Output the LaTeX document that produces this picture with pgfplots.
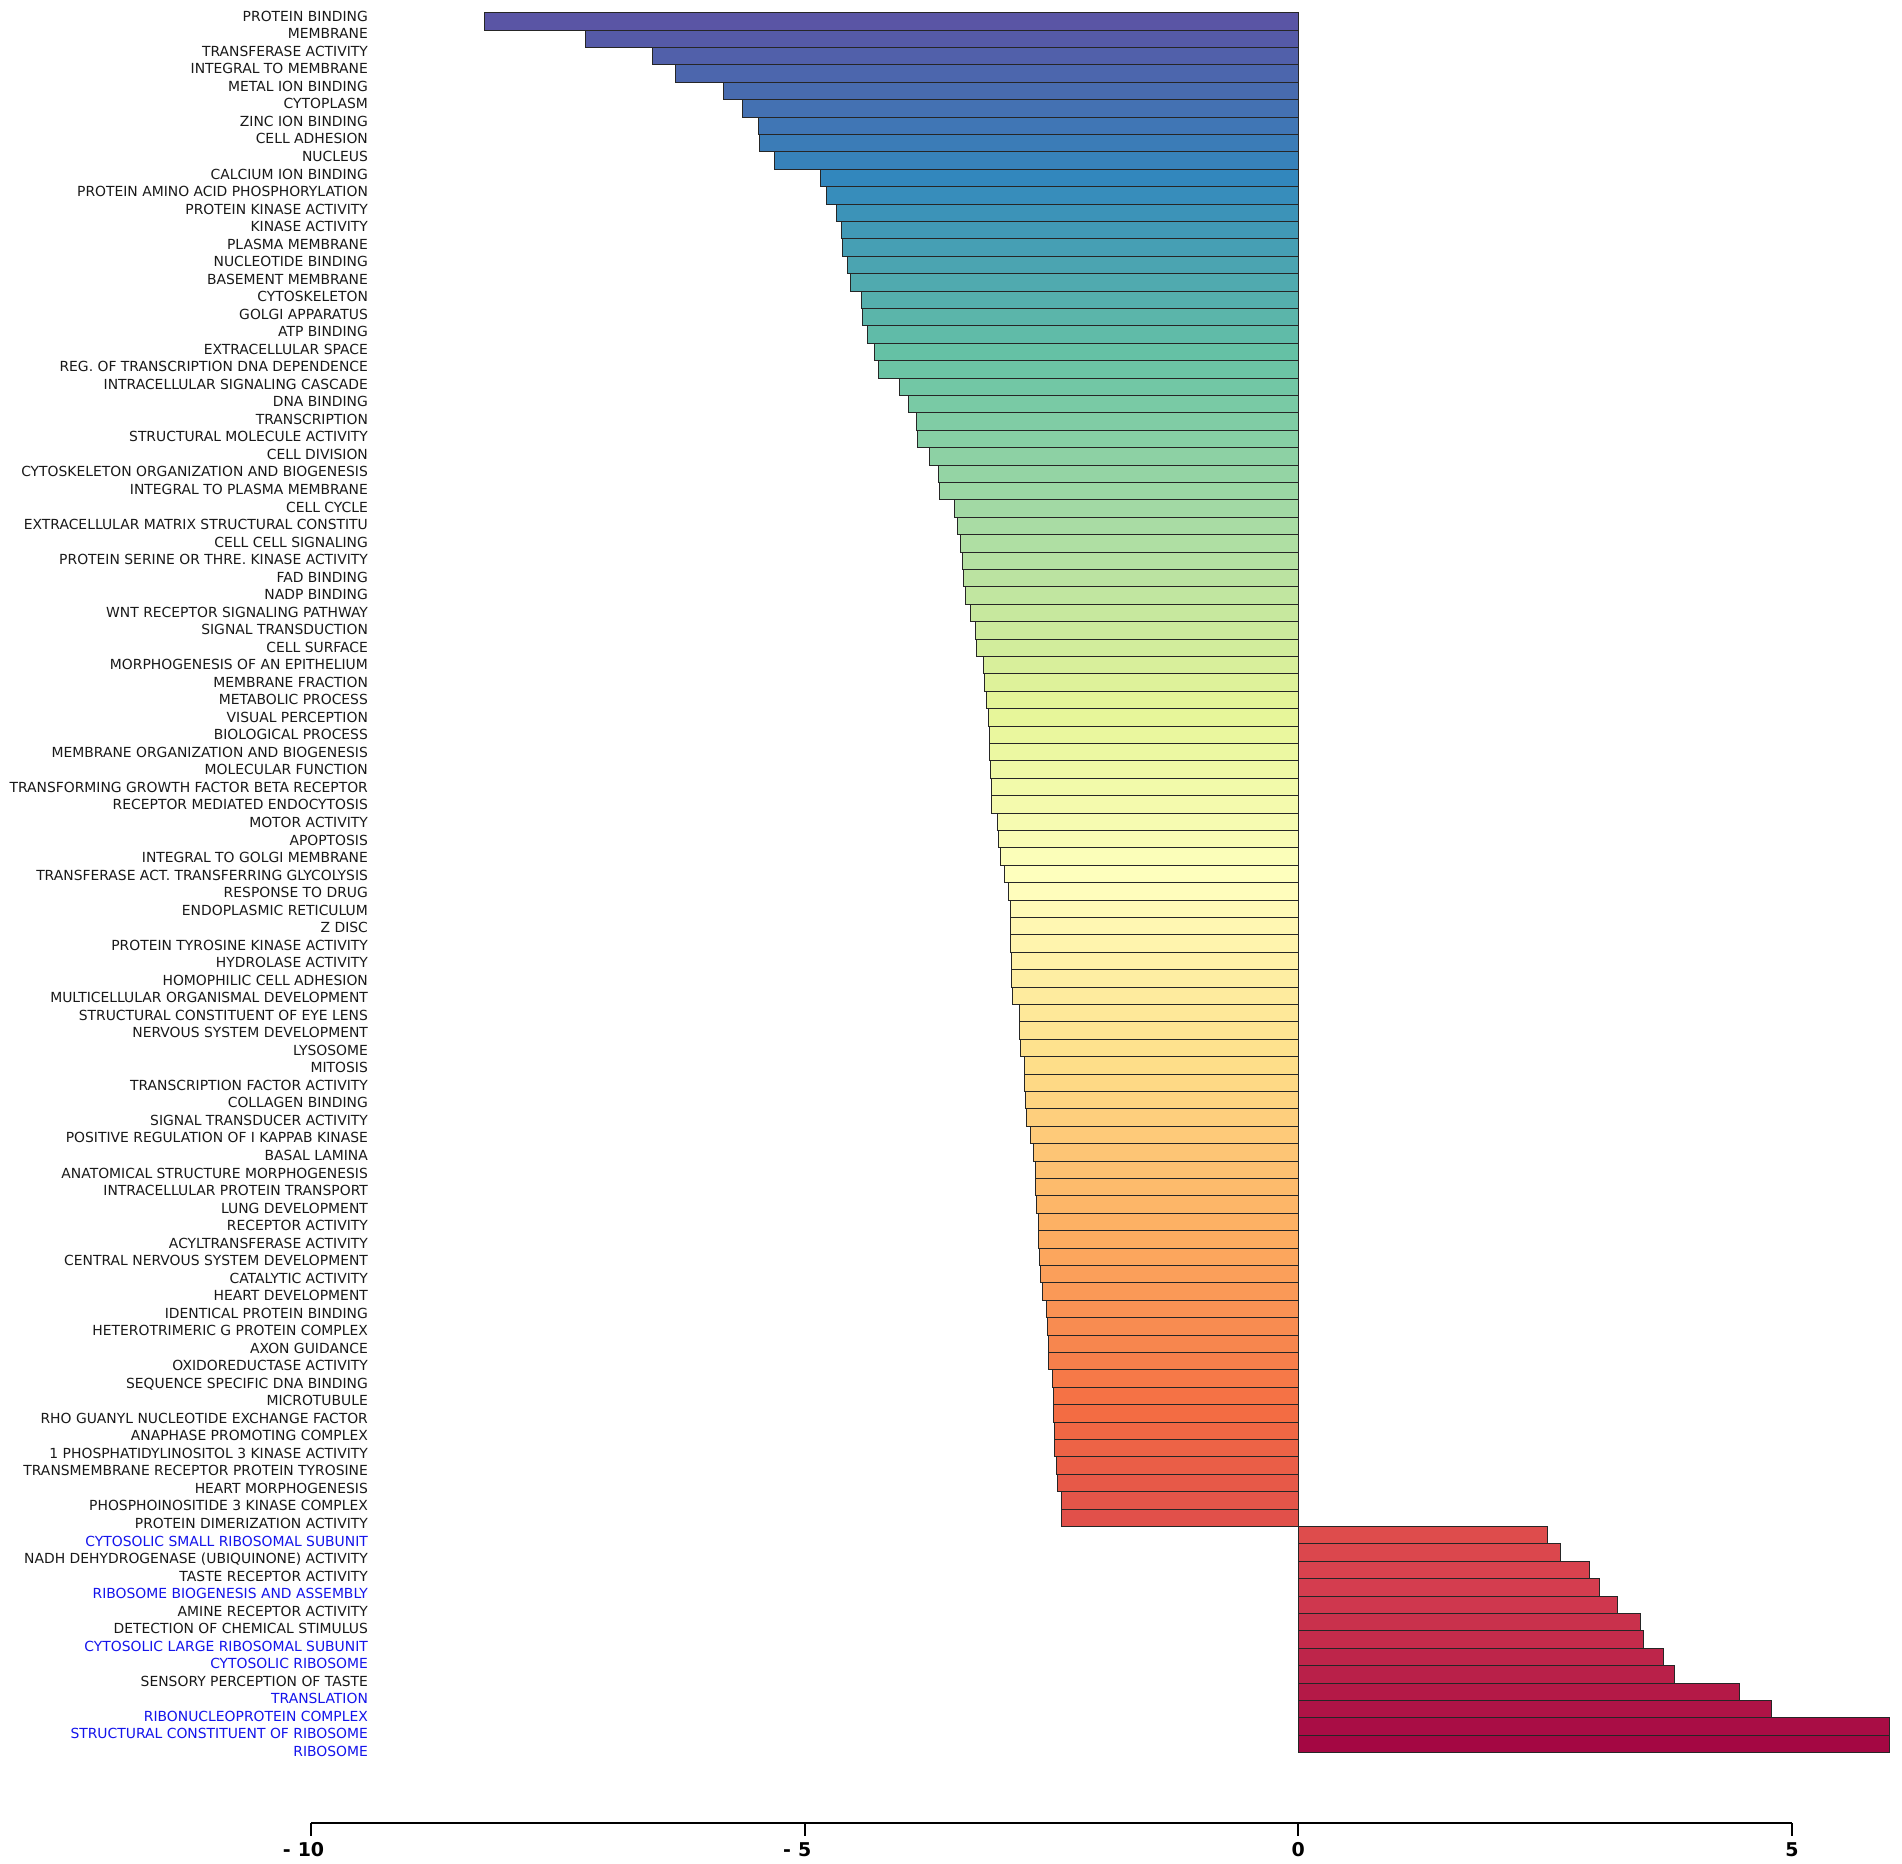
\documentclass[border=0pt]{standalone}
\usepackage{pgfplots}
\pgfplotsset{compat=1.18}
\usepackage{fontspec}
\setmainfont{DejaVu Sans}

% Spectral_r anchors
\definecolor{s0}{HTML}{5E4FA2}
\definecolor{s1}{HTML}{3288BD}
\definecolor{s2}{HTML}{66C2A5}
\definecolor{s3}{HTML}{ABDDA4}
\definecolor{s4}{HTML}{E6F598}
\definecolor{s5}{HTML}{FFFFBF}
\definecolor{s6}{HTML}{FEE08B}
\definecolor{s7}{HTML}{FDAE61}
\definecolor{s8}{HTML}{F46D43}
\definecolor{s9}{HTML}{D53E4F}
\definecolor{s10}{HTML}{9E0142}
\definecolor{lblue}{RGB}{20,20,235}

% one bar: value, row, fill
\newcommand{\hb}[3]{\addplot[xbar, bar width=1, bar shift=0pt, fill=#3, draw=black!85, line width=0.5pt] coordinates {(#1,#2)};}

\begin{document}
\begin{tikzpicture}[x=1pt,y=1pt]
\useasboundingbox (0,0) rectangle (951,932);

\begin{axis}[
    at={(0,0)}, anchor=south west,
    width=951pt, height=932pt, scale only axis,
    xmin=-13.15, xmax=6.115,
    ymin=-0.23, ymax=106.9,
    y dir=reverse,
    hide axis, clip=false
]
\hb{-8.24}{1}{s0!90!s1}
\hb{-7.22}{2}{s0!80!s1}
\hb{-6.54}{3}{s0!70!s1}
\hb{-6.31}{4}{s0!60!s1}
\hb{-5.82}{5}{s0!50!s1}
\hb{-5.63}{6}{s0!41!s1}
\hb{-5.47}{7}{s0!31!s1}
\hb{-5.46}{8}{s0!21!s1}
\hb{-5.31}{9}{s0!11!s1}
\hb{-4.84}{10}{s0!1!s1}
\hb{-4.78}{11}{s1!91!s2}
\hb{-4.68}{12}{s1!81!s2}
\hb{-4.63}{13}{s1!71!s2}
\hb{-4.62}{14}{s1!61!s2}
\hb{-4.57}{15}{s1!51!s2}
\hb{-4.54}{16}{s1!42!s2}
\hb{-4.42}{17}{s1!32!s2}
\hb{-4.41}{18}{s1!22!s2}
\hb{-4.36}{19}{s1!12!s2}
\hb{-4.29}{20}{s1!2!s2}
\hb{-4.25}{21}{s2!92!s3}
\hb{-4.04}{22}{s2!82!s3}
\hb{-3.95}{23}{s2!72!s3}
\hb{-3.87}{24}{s2!62!s3}
\hb{-3.86}{25}{s2!52!s3}
\hb{-3.74}{26}{s2!43!s3}
\hb{-3.64}{27}{s2!33!s3}
\hb{-3.63}{28}{s2!23!s3}
\hb{-3.48}{29}{s2!13!s3}
\hb{-3.45}{30}{s2!3!s3}
\hb{-3.42}{31}{s3!93!s4}
\hb{-3.40}{32}{s3!83!s4}
\hb{-3.39}{33}{s3!73!s4}
\hb{-3.37}{34}{s3!63!s4}
\hb{-3.32}{35}{s3!53!s4}
\hb{-3.27}{36}{s3!44!s4}
\hb{-3.26}{37}{s3!34!s4}
\hb{-3.19}{38}{s3!24!s4}
\hb{-3.18}{39}{s3!14!s4}
\hb{-3.16}{40}{s3!4!s4}
\hb{-3.14}{41}{s4!94!s5}
\hb{-3.13}{42}{s4!84!s5}
\hb{-3.13}{43}{s4!74!s5}
\hb{-3.12}{44}{s4!64!s5}
\hb{-3.11}{45}{s4!54!s5}
\hb{-3.11}{46}{s4!45!s5}
\hb{-3.05}{47}{s4!35!s5}
\hb{-3.04}{48}{s4!25!s5}
\hb{-3.02}{49}{s4!15!s5}
\hb{-2.98}{50}{s4!5!s5}
\hb{-2.94}{51}{s5!95!s6}
\hb{-2.92}{52}{s5!85!s6}
\hb{-2.91}{53}{s5!75!s6}
\hb{-2.91}{54}{s5!65!s6}
\hb{-2.90}{55}{s5!55!s6}
\hb{-2.90}{56}{s5!46!s6}
\hb{-2.89}{57}{s5!36!s6}
\hb{-2.82}{58}{s5!26!s6}
\hb{-2.82}{59}{s5!16!s6}
\hb{-2.81}{60}{s5!6!s6}
\hb{-2.77}{61}{s6!96!s7}
\hb{-2.77}{62}{s6!86!s7}
\hb{-2.76}{63}{s6!76!s7}
\hb{-2.75}{64}{s6!66!s7}
\hb{-2.71}{65}{s6!56!s7}
\hb{-2.68}{66}{s6!47!s7}
\hb{-2.66}{67}{s6!37!s7}
\hb{-2.66}{68}{s6!27!s7}
\hb{-2.65}{69}{s6!17!s7}
\hb{-2.63}{70}{s6!7!s7}
\hb{-2.63}{71}{s7!97!s8}
\hb{-2.62}{72}{s7!87!s8}
\hb{-2.61}{73}{s7!77!s8}
\hb{-2.59}{74}{s7!67!s8}
\hb{-2.55}{75}{s7!57!s8}
\hb{-2.54}{76}{s7!48!s8}
\hb{-2.53}{77}{s7!38!s8}
\hb{-2.53}{78}{s7!28!s8}
\hb{-2.49}{79}{s7!18!s8}
\hb{-2.48}{80}{s7!8!s8}
\hb{-2.48}{81}{s8!98!s9}
\hb{-2.47}{82}{s8!88!s9}
\hb{-2.47}{83}{s8!78!s9}
\hb{-2.45}{84}{s8!68!s9}
\hb{-2.44}{85}{s8!58!s9}
\hb{-2.40}{86}{s8!49!s9}
\hb{-2.40}{87}{s8!39!s9}
\hb{2.52}{88}{s8!29!s9}
\hb{2.66}{89}{s8!19!s9}
\hb{2.95}{90}{s8!9!s9}
\hb{3.05}{91}{s9!99!s10}
\hb{3.23}{92}{s9!89!s10}
\hb{3.47}{93}{s9!79!s10}
\hb{3.50}{94}{s9!69!s10}
\hb{3.70}{95}{s9!59!s10}
\hb{3.81}{96}{s9!50!s10}
\hb{4.47}{97}{s9!40!s10}
\hb{4.79}{98}{s9!30!s10}
\hb{5.99}{99}{s9!20!s10}
\hb{5.99}{100}{s9!10!s10}

% trimmed bottom spine with ticks
\draw[line width=1pt] (axis cs:-10,104.54) -- (axis cs:5,104.54);
\pgfplotsinvokeforeach{-10,-5,0,5}{
  \draw[line width=1pt] (axis cs:#1,104.54) -- ++(0pt,-6.5pt);
}
\node[anchor=north, inner sep=0pt, font=\bfseries\fontsize{9.5}{10}\selectfont] at (axis cs:-10,105.63) {\llap{-\hspace{3.5pt}}10};
\node[anchor=north, inner sep=0pt, font=\bfseries\fontsize{9.5}{10}\selectfont] at (axis cs:-5,105.63) {\llap{-\hspace{3.5pt}}5};
\node[anchor=north, inner sep=0pt, font=\bfseries\fontsize{9.5}{10}\selectfont] at (axis cs:0,105.63) {0};
\node[anchor=north, inner sep=0pt, font=\bfseries\fontsize{9.5}{10}\selectfont] at (axis cs:5,105.63) {5};
\end{axis}

% category labels
\begin{axis}[
    at={(184.15pt,0)}, anchor=south west,
    width=50pt, height=932pt, scale only axis,
    xmin=0, xmax=1,
    ymin=0.201, ymax=106.56,
    y dir=reverse,
    axis line style={draw=none},
    xtick=\empty,
    major tick length=0pt, tick style={draw=none},
    ytick={1,...,100},
    yticklabel style={anchor=east, inner sep=0pt, text height=0.73em, text depth=0pt, font=\fontsize{6.95}{8}\selectfont, text=black!90},
    yticklabels={
PROTEIN BINDING,
MEMBRANE,
TRANSFERASE ACTIVITY,
INTEGRAL TO MEMBRANE,
METAL ION BINDING,
CYTOPLASM,
ZINC ION BINDING,
CELL ADHESION,
NUCLEUS,
CALCIUM ION BINDING,
PROTEIN AMINO ACID PHOSPHORYLATION,
PROTEIN KINASE ACTIVITY,
KINASE ACTIVITY,
PLASMA MEMBRANE,
NUCLEOTIDE BINDING,
BASEMENT MEMBRANE,
CYTOSKELETON,
GOLGI APPARATUS,
ATP BINDING,
EXTRACELLULAR SPACE,
REG. OF TRANSCRIPTION DNA DEPENDENCE,
INTRACELLULAR SIGNALING CASCADE,
DNA BINDING,
TRANSCRIPTION,
STRUCTURAL MOLECULE ACTIVITY,
CELL DIVISION,
CYTOSKELETON ORGANIZATION AND BIOGENESIS,
INTEGRAL TO PLASMA MEMBRANE,
CELL CYCLE,
EXTRACELLULAR MATRIX STRUCTURAL CONSTITU,
CELL CELL SIGNALING,
PROTEIN SERINE OR THRE. KINASE ACTIVITY,
FAD BINDING,
NADP BINDING,
WNT RECEPTOR SIGNALING PATHWAY,
SIGNAL TRANSDUCTION,
CELL SURFACE,
MORPHOGENESIS OF AN EPITHELIUM,
MEMBRANE FRACTION,
METABOLIC PROCESS,
VISUAL PERCEPTION,
BIOLOGICAL PROCESS,
MEMBRANE ORGANIZATION AND BIOGENESIS,
MOLECULAR FUNCTION,
TRANSFORMING GROWTH FACTOR BETA RECEPTOR,
RECEPTOR MEDIATED ENDOCYTOSIS,
MOTOR ACTIVITY,
APOPTOSIS,
INTEGRAL TO GOLGI MEMBRANE,
TRANSFERASE ACT. TRANSFERRING GLYCOLYSIS,
RESPONSE TO DRUG,
ENDOPLASMIC RETICULUM,
Z DISC,
PROTEIN TYROSINE KINASE ACTIVITY,
HYDROLASE ACTIVITY,
HOMOPHILIC CELL ADHESION,
MULTICELLULAR ORGANISMAL DEVELOPMENT,
STRUCTURAL CONSTITUENT OF EYE LENS,
NERVOUS SYSTEM DEVELOPMENT,
LYSOSOME,
MITOSIS,
TRANSCRIPTION FACTOR ACTIVITY,
COLLAGEN BINDING,
SIGNAL TRANSDUCER ACTIVITY,
POSITIVE REGULATION OF I KAPPAB KINASE,
BASAL LAMINA,
ANATOMICAL STRUCTURE MORPHOGENESIS,
INTRACELLULAR PROTEIN TRANSPORT,
LUNG DEVELOPMENT,
RECEPTOR ACTIVITY,
ACYLTRANSFERASE ACTIVITY,
CENTRAL NERVOUS SYSTEM DEVELOPMENT,
CATALYTIC ACTIVITY,
HEART DEVELOPMENT,
IDENTICAL PROTEIN BINDING,
HETEROTRIMERIC G PROTEIN COMPLEX,
AXON GUIDANCE,
OXIDOREDUCTASE ACTIVITY,
SEQUENCE SPECIFIC DNA BINDING,
MICROTUBULE,
RHO GUANYL NUCLEOTIDE EXCHANGE FACTOR,
ANAPHASE PROMOTING COMPLEX,
1 PHOSPHATIDYLINOSITOL 3 KINASE ACTIVITY,
TRANSMEMBRANE RECEPTOR PROTEIN TYROSINE,
HEART MORPHOGENESIS,
PHOSPHOINOSITIDE 3 KINASE COMPLEX,
PROTEIN DIMERIZATION ACTIVITY,
{\color{lblue}CYTOSOLIC SMALL RIBOSOMAL SUBUNIT},
NADH DEHYDROGENASE (UBIQUINONE) ACTIVITY,
TASTE RECEPTOR ACTIVITY,
{\color{lblue}RIBOSOME BIOGENESIS AND ASSEMBLY},
AMINE RECEPTOR ACTIVITY,
DETECTION OF CHEMICAL STIMULUS,
{\color{lblue}CYTOSOLIC LARGE RIBOSOMAL SUBUNIT},
{\color{lblue}CYTOSOLIC RIBOSOME},
SENSORY PERCEPTION OF TASTE,
{\color{lblue}TRANSLATION},
{\color{lblue}RIBONUCLEOPROTEIN COMPLEX},
{\color{lblue}STRUCTURAL CONSTITUENT OF RIBOSOME},
{\color{lblue}RIBOSOME}
    }
]
\end{axis}
\end{tikzpicture}
\end{document}
